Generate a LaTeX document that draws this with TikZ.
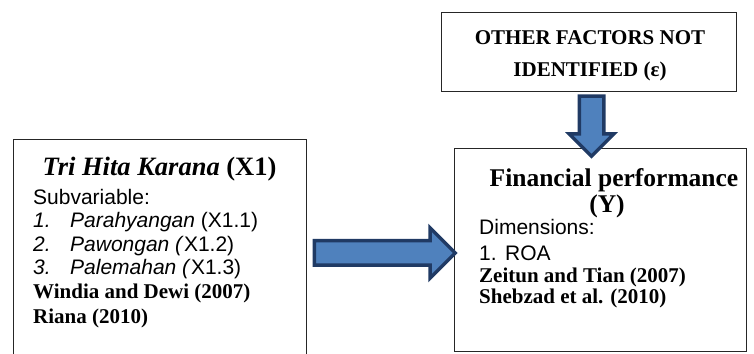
\documentclass[tikz,border=0pt]{standalone}
\usepackage{fontspec}
\setmainfont{Liberation Serif}
\setsansfont{Liberation Sans}
\usetikzlibrary{shapes.arrows,calc}

\definecolor{arrowfill}{HTML}{4F81BD}
\definecolor{arrowline}{HTML}{203A64}

\tikzset{
  varbox/.style={draw=black!85, line width=1pt, inner sep=0pt},
  bodytext/.style={inner sep=0pt, anchor=base west, font=\sffamily\fontsize{21}{25}\selectfont},
  reftext/.style={inner sep=0pt, anchor=base west, font=\bfseries\fontsize{21}{25}\selectfont},
  headtext/.style={inner sep=0pt, anchor=base, font=\bfseries\fontsize{26.5}{30}\selectfont},
  blockarrow/.style={single arrow, fill=arrowfill, draw=arrowline, line width=3.5pt,
    inner sep=10.5pt, single arrow head extend=13pt},
}

\begin{document}
\begin{tikzpicture}[x=1pt, y=1pt]

        \useasboundingbox (0,0) rectangle (754,353);

        % boxes
        \node[varbox, minimum width=293, minimum height=226] (X1) at (159.5,100) {};
        \node[varbox, minimum width=292, minimum height=202] (Y) at (600,103) {};
        \node[varbox, minimum width=295, minimum height=79] (E) at (588.5,300.5) {};

        % arrows
        \node[blockarrow, minimum height=141, anchor=tail] (XtoY) at ($(X1.east)+(6,0)$) {};
        \node[blockarrow, minimum height=60, single arrow head extend=10pt,
              shape border rotate=270, anchor=tail] (EtoY) at ($(E.south)+(3,-2)$) {};

        % other factors
        \node[headtext, font=\bfseries\fontsize{21}{25}\selectfont] (Eline1) at (590,308) {OTHER FACTORS NOT};
        \node[headtext, font=\bfseries\fontsize{21}{25}\selectfont] (Eline2) at (590,276) {IDENTIFIED (ε)};

        % independent variable
        \node[headtext] (X1title) at (159.5,177) {\textit{Tri Hita Karana} (X1)};
        \node[bodytext] (X1sub) at (33,148) {Subvariable:};
        \node[bodytext] (X1a) at (33,125) {\makebox[37pt][l]{\itshape 1.}\textit{Parahyangan} (X1.1)};
        \node[bodytext] (X1b) at (33,101) {\makebox[37pt][l]{\itshape 2.}\textit{Pawongan (}X1.2)};
        \node[bodytext] (X1c) at (33,78) {\makebox[37pt][l]{\itshape 3.}\textit{Palemahan (}X1.3)};
        \node[reftext] (X1ref1) at (33,54) {Windia and Dewi (2007)};
        \node[reftext] (X1ref2) at (33,29) {Riana (2010)};

        % dependent variable
        \node[headtext, font=\bfseries\fontsize{25.5}{30}\selectfont] (Ytitle1) at (614,166) {Financial performance};
        \node[headtext, font=\bfseries\fontsize{25.5}{30}\selectfont] (Ytitle2) at (607,140) {(Y)};
        \node[bodytext] (Ydim) at (479,118) {Dimensions:};
        \node[bodytext] (Ya) at (479,92) {\makebox[26pt][l]{1.}ROA};
        \node[reftext] (Yref1) at (479,70) {Zeitun and Tian (2007)};
        \node[reftext] (Yref2) at (479,49) {Shebzad et al. (2010)};

\end{tikzpicture}
\end{document}
